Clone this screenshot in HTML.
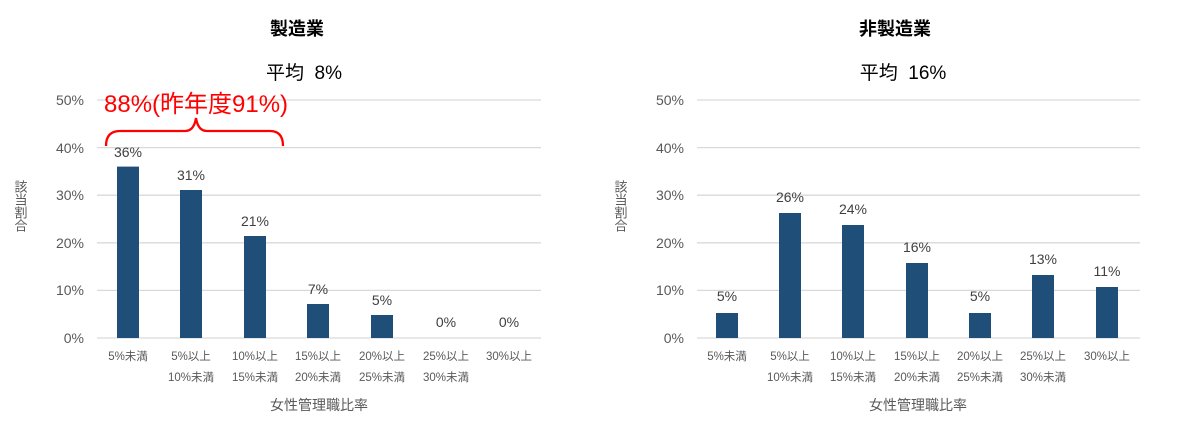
<!DOCTYPE html>
<html><head><meta charset="utf-8"><style>
body{margin:0;background:#fff;}
svg{display:block;font-family:"Liberation Sans","Noto Sans CJK JP",sans-serif;}
.g{stroke:#d9d9d9;stroke-width:1.3}
.yl{font-size:14px;fill:#595959;text-anchor:end}
.v{font-size:14px;fill:#404040;text-anchor:middle}
.c{font-size:11.5px;fill:#595959;text-anchor:middle}
.t{font-size:18px;font-weight:bold;fill:#000;text-anchor:middle}
.a{font-size:18px;fill:#000;text-anchor:middle}
.x{font-size:14px;fill:#595959;text-anchor:middle}
.b{fill:#1f4e79}
</style></head><body>
<svg width="1200" height="443" viewBox="0 0 1200 443">
<!-- Left chart -->
<text class="t" x="297" y="35">製造業</text>
<text class="a" x="304" y="79" style="font-size:19px">平均&#160;&#160;8%</text>
<g>
<line class="g" x1="97" x2="541" y1="100" y2="100"/>
<line class="g" x1="97" x2="541" y1="147.6" y2="147.6"/>
<line class="g" x1="97" x2="541" y1="195.2" y2="195.2"/>
<line class="g" x1="97" x2="541" y1="242.8" y2="242.8"/>
<line class="g" x1="97" x2="541" y1="290.4" y2="290.4"/>
<line class="g" x1="97" x2="541" y1="338" y2="338"/>
</g>
<text class="yl" x="84" y="105">50%</text>
<text class="yl" x="84" y="153">40%</text>
<text class="yl" x="84" y="200">30%</text>
<text class="yl" x="84" y="248">20%</text>
<text class="yl" x="84" y="295">10%</text>
<text class="yl" x="84" y="343">0%</text>
<text style="font-size:13px;fill:#595959;writing-mode:vertical-rl" x="20" y="180">該当割合</text>
<rect class="b" x="117" y="166.6" width="22" height="171.4"/>
<rect class="b" x="180" y="190" width="22" height="148"/>
<rect class="b" x="244" y="236" width="22" height="102"/>
<rect class="b" x="307" y="304" width="22" height="34"/>
<rect class="b" x="371" y="315" width="22" height="23"/>
<text class="v" x="128" y="157">36%</text>
<text class="v" x="191" y="180">31%</text>
<text class="v" x="255" y="226">21%</text>
<text class="v" x="318" y="294">7%</text>
<text class="v" x="382" y="305">5%</text>
<text class="v" x="446" y="327">0%</text>
<text class="v" x="509" y="327">0%</text>
<text class="c" x="128" y="360">5%未満</text>
<text class="c" x="191" y="360">5%以上</text><text class="c" x="191" y="381">10%未満</text>
<text class="c" x="255" y="360">10%以上</text><text class="c" x="255" y="381">15%未満</text>
<text class="c" x="318" y="360">15%以上</text><text class="c" x="318" y="381">20%未満</text>
<text class="c" x="382" y="360">20%以上</text><text class="c" x="382" y="381">25%未満</text>
<text class="c" x="446" y="360">25%以上</text><text class="c" x="446" y="381">30%未満</text>
<text class="c" x="509" y="360">30%以上</text>
<text class="x" x="319" y="410">女性管理職比率</text>
<text x="104" y="112" style="font-size:24px;fill:#ff0000">88%(昨年度91%)</text>
<path d="M106,146 Q106,131 120,131 L185,131 Q194,131 196,118 Q198,131 207,131 L270,131 Q283,131 283,146" fill="none" stroke="#ff0000" stroke-width="2.3"/>

<!-- Right chart -->
<text class="t" x="895" y="35">非製造業</text>
<text class="a" x="903" y="79" style="font-size:19px">平均&#160;&#160;16%</text>
<g>
<line class="g" x1="697" x2="1140" y1="100" y2="100"/>
<line class="g" x1="697" x2="1140" y1="147.6" y2="147.6"/>
<line class="g" x1="697" x2="1140" y1="195.2" y2="195.2"/>
<line class="g" x1="697" x2="1140" y1="242.8" y2="242.8"/>
<line class="g" x1="697" x2="1140" y1="290.4" y2="290.4"/>
<line class="g" x1="697" x2="1140" y1="338" y2="338"/>
</g>
<text class="yl" x="684" y="105">50%</text>
<text class="yl" x="684" y="153">40%</text>
<text class="yl" x="684" y="200">30%</text>
<text class="yl" x="684" y="248">20%</text>
<text class="yl" x="684" y="295">10%</text>
<text class="yl" x="684" y="343">0%</text>
<text style="font-size:13px;fill:#595959;writing-mode:vertical-rl" x="620" y="180">該当割合</text>
<rect class="b" x="716" y="313" width="22" height="25"/>
<rect class="b" x="779" y="213" width="22" height="125"/>
<rect class="b" x="842" y="225" width="22" height="113"/>
<rect class="b" x="906" y="263" width="22" height="75"/>
<rect class="b" x="969" y="313" width="22" height="25"/>
<rect class="b" x="1032" y="275" width="22" height="63"/>
<rect class="b" x="1096" y="287" width="22" height="51"/>
<text class="v" x="727" y="301">5%</text>
<text class="v" x="790" y="202">26%</text>
<text class="v" x="853" y="214">24%</text>
<text class="v" x="917" y="252">16%</text>
<text class="v" x="980" y="301">5%</text>
<text class="v" x="1043" y="264">13%</text>
<text class="v" x="1107" y="276">11%</text>
<text class="c" x="727" y="360">5%未満</text>
<text class="c" x="790" y="360">5%以上</text><text class="c" x="790" y="381">10%未満</text>
<text class="c" x="853" y="360">10%以上</text><text class="c" x="853" y="381">15%未満</text>
<text class="c" x="917" y="360">15%以上</text><text class="c" x="917" y="381">20%未満</text>
<text class="c" x="980" y="360">20%以上</text><text class="c" x="980" y="381">25%未満</text>
<text class="c" x="1043" y="360">25%以上</text><text class="c" x="1043" y="381">30%未満</text>
<text class="c" x="1107" y="360">30%以上</text>
<text class="x" x="918" y="410">女性管理職比率</text>
</svg>
</body></html>
